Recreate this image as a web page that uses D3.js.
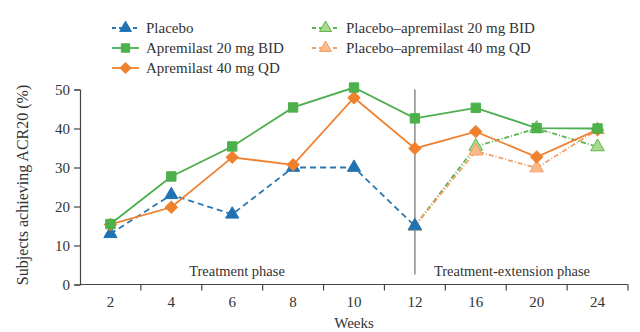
<!DOCTYPE html>
<html>
<head>
<meta charset="utf-8">
<script src="https://cdn.jsdelivr.net/npm/d3@7"></script>
<style>
  body { margin: 0; background: #fff; }
  text { font-family: "Liberation Serif", "DejaVu Serif", serif; fill: #333; }
</style>
</head>
<body>
<div id="chart"></div>
<script>
// data
const weeks = ["2", "4", "6", "8", "10", "12", "16", "20", "24"];
const yTicks = [0, 10, 20, 30, 40, 50];
const placebo = [13, 23, 18, 30, 30, 15];
const apr20 = [15.5, 27.7, 35.4, 45.4, 50.5, 42.6, 45.3, 40.1, 40];
const apr40 = [15.4, 19.8, 32.6, 30.7, 47.9, 34.9, 39.2, 32.7, 39.7];
const plApr20 = [15, 35.4, 40, 35.3];
const plApr40 = [15, 34.2, 29.9, 39.7];
const extWeeks = ["12", "16", "20", "24"];

const width = 640, height = 332;
const margin = {top: 89.5, right: 12, bottom: 47.5, left: 80};
const w = width - margin.left - margin.right,
    h = height - margin.top - margin.bottom;

const svg = d3.select("#chart").append("svg")
    .attr("width", width)
    .attr("height", height);

const g = svg.append("g")
    .attr("transform", "translate(" + margin.left + "," + margin.top + ")");

let x = d3.scaleBand().domain(weeks).range([0, w]).padding(0);
let y = d3.scaleLinear().domain([0, 50]).range([h, 0]);
const cx = d => x(d) + x.bandwidth() / 2;

// axes
let yAxis = d3.axisLeft(y).tickValues(yTicks).tickSize(6).tickPadding(4);
g.append("g").attr("class", "axis").call(yAxis);

let xAxis = g.append("g").attr("class", "axis")
    .attr("transform", "translate(0," + h + ")");
xAxis.append("line").attr("x1", 0).attr("x2", w);
xAxis.selectAll(".xt")
    .data(weeks.slice(1).map(d => x(d)).concat([w]))
    .enter().append("line")
    .attr("x1", d => d).attr("x2", d => d)
    .attr("y1", 0).attr("y2", 6);
xAxis.selectAll(".xl")
    .data(weeks)
    .enter().append("text")
    .attr("x", d => cx(d))
    .attr("y", 22)
    .style("text-anchor", "middle")
    .style("font-size", "15px")
    .text(d => d);

g.selectAll(".axis path, .axis line")
    .style("stroke", "#444").style("stroke-width", 1.2).style("fill", "none");
g.selectAll(".axis .tick text")
    .style("font-size", "15px")
    .style("font-family", "'Liberation Serif', serif")
    .style("fill", "#333");

// axis titles
g.append("text")
    .attr("x", w / 2).attr("y", h + 43)
    .style("text-anchor", "middle").style("font-size", "15px")
    .text("Weeks");
g.append("text")
    .attr("transform", "translate(-52," + (h / 2 - 2) + ") rotate(-90)")
    .style("text-anchor", "middle").style("font-size", "16px")
    .text("Subjects achieving ACR20 (%)");

// phase divider
g.append("line")
    .attr("x1", cx("12")).attr("x2", cx("12"))
    .attr("y1", y(50)).attr("y2", y(0) - 10)
    .style("stroke", "#8a8a8a").style("stroke-width", 1.5);

g.append("text")
    .attr("x", 157).attr("y", h - 9)
    .style("text-anchor", "middle").style("font-size", "14.5px")
    .text("Treatment phase");
g.append("text")
    .attr("x", 432).attr("y", h - 9)
    .style("text-anchor", "middle").style("font-size", "14.5px")
    .text("Treatment-extension phase");

// series definitions
const series = [
    {name: "Placebo-apremilast 20 mg BID", weeks: extWeeks, vals: plApr20,
     stroke: "#5cb34f", dash: "5,2,1,2", sym: d3.symbolTriangle, size: 80, rot: 0, fill: "#a9d98f", mstroke: "#62b550"},
    {name: "Placebo-apremilast 40 mg QD", weeks: extWeeks, vals: plApr40,
     stroke: "#f2a066", dash: "5,2,1,2", sym: d3.symbolTriangle, size: 80, rot: 0, fill: "#f9b98a", mstroke: "#f2a066"},
    {name: "Placebo", weeks: weeks.slice(0, 6), vals: placebo,
     stroke: "#2a77b0", dash: "6,4", sym: d3.symbolTriangle, size: 75, rot: 0, fill: "#1f72b4", mstroke: "#1f72b4"},
    {name: "Apremilast 40 mg QD", weeks: weeks, vals: apr40,
     stroke: "#ef8130", dash: null, sym: d3.symbolSquare, size: 72, rot: 45, fill: "#f0802a", mstroke: "#f0802a"},
    {name: "Apremilast 20 mg BID", weeks: weeks, vals: apr20,
     stroke: "#4cae4c", dash: null, sym: d3.symbolSquare, size: 88, rot: 0, fill: "#4cb14a", mstroke: "#4cb14a"}
];

const line = d3.line().x(d => cx(d.w)).y(d => y(d.v));

series.forEach(s => {
    const pts = s.vals.map((v, i) => ({w: s.weeks[i], v: v}));
    g.append("path")
        .datum(pts)
        .attr("d", line)
        .style("fill", "none")
        .style("stroke", s.stroke)
        .style("stroke-width", 1.8)
        .style("stroke-dasharray", s.dash);
    g.selectAll(null)
        .data(pts)
        .enter().append("path")
        .attr("transform", d => "translate(" + cx(d.w) + "," + y(d.v) + ") rotate(" + s.rot + ")")
        .attr("d", d3.symbol().type(s.sym).size(s.size))
        .style("fill", s.fill)
        .style("stroke", s.mstroke)
        .style("stroke-width", 1);
});

// legend
const legendItems = [
    {s: series[2], x: 112, y: 28, label: "Placebo"},
    {s: series[4], x: 112, y: 48, label: "Apremilast 20 mg BID"},
    {s: series[3], x: 112, y: 68, label: "Apremilast 40 mg QD"},
    {s: series[0], x: 312, y: 28, label: "Placebo\u2013apremilast 20 mg BID"},
    {s: series[1], x: 312, y: 48, label: "Placebo\u2013apremilast 40 mg QD"}
];

const legend = svg.selectAll(".legend")
    .data(legendItems)
    .enter().append("g")
    .attr("class", "legend")
    .attr("transform", d => "translate(" + d.x + "," + d.y + ")");

legend.append("line")
    .attr("x1", 0).attr("x2", 27)
    .style("stroke", d => d.s.stroke)
    .style("stroke-width", 1.8)
    .style("stroke-dasharray", d => d.s.dash ? "4,3" : null);

legend.append("path")
    .attr("transform", d => "translate(13.5,0) rotate(" + d.s.rot + ")")
    .attr("d", d => d3.symbol().type(d.s.sym).size(d.s.size * 0.8)())
    .style("fill", d => d.s.fill)
    .style("stroke", d => d.s.mstroke);

legend.append("text")
    .attr("x", 34).attr("y", 0).attr("dy", "0.33em")
    .style("font-size", "15px")
    .text(d => d.label);
</script>
</body>
</html>
